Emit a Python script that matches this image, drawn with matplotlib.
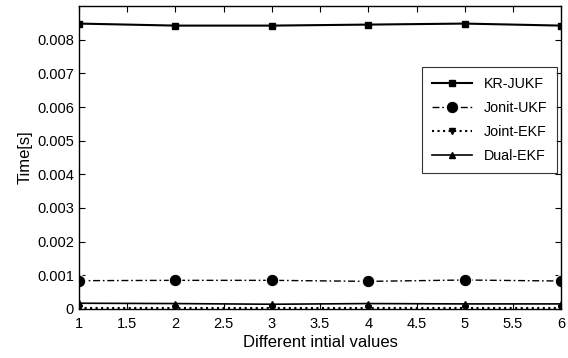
import matplotlib
matplotlib.use('Agg')
import matplotlib.pyplot as plt

# values
init_values = [1, 2, 3, 4, 5, 6]
kr_jukf = [0.00848, 0.00842, 0.00842, 0.00845, 0.00848, 0.00842]
jonit_ukf = [0.00084, 0.00085, 0.00085, 0.00082, 0.00086, 0.00083]
joint_ekf = [0.00003, 0.00003, 0.00003, 0.00003, 0.00003, 0.00003]
dual_ekf = [0.00017, 0.00016, 0.00014, 0.00016, 0.00015, 0.00015]

xticks = [1, 1.5, 2, 2.5, 3, 3.5, 4, 4.5, 5, 5.5, 6]
yticks = [0, 0.001, 0.002, 0.003, 0.004, 0.005, 0.006, 0.007, 0.008]

plt.rcParams['font.family'] = ['Liberation Sans', 'DejaVu Sans']

fig = plt.figure(figsize=(5.68, 3.58), dpi=100)
ax = fig.add_axes([0.139, 0.137, 0.849, 0.846])

ax.plot(init_values, kr_jukf, '-', color='black', lw=1.5,
        marker='s', markersize=5, label='KR-JUKF')
ax.plot(init_values, jonit_ukf, color='black', lw=1.0, dashes=(5, 2, 1.2, 2),
        marker='o', markersize=9, markerfacecolor='black',
        markeredgecolor='white', markeredgewidth=0.8, label='Jonit-UKF')
ax.plot(init_values, joint_ekf, ':', color='black', lw=1.5,
        marker='v', markersize=5, label='Joint-EKF')
ax.plot(init_values, dual_ekf, '-', color='black', lw=1.2,
        marker='^', markersize=5, label='Dual-EKF')

ax.set_xlim(1, 6)
ax.set_ylim(0, 0.009)
ax.set_xticks(xticks)
ax.set_xticklabels(['1', '1.5', '2', '2.5', '3', '3.5', '4', '4.5', '5', '5.5', '6'])
ax.set_yticks(yticks)
ax.set_yticklabels(['0', '0.001', '0.002', '0.003', '0.004', '0.005', '0.006', '0.007', '0.008'])
ax.tick_params(direction='in', top=True, right=True, labelsize=10.5, length=4, width=0.8)
ax.tick_params(axis='x', pad=6)
for s in ax.spines.values():
    s.set_linewidth(1.0)

ax.set_xlabel('Different intial values', fontsize=12, labelpad=3)
ax.set_ylabel('Time[s]', fontsize=12)
ax.yaxis.set_label_coords(-0.097, 0.5)

leg = ax.legend(loc='upper right', bbox_to_anchor=(1.006, 0.823), fontsize=10.3,
                frameon=True, fancybox=False, edgecolor='black',
                handlelength=2.8, borderpad=0.7, labelspacing=0.7)
leg.get_frame().set_linewidth(0.8)

fig.savefig('out.png', dpi=100)
